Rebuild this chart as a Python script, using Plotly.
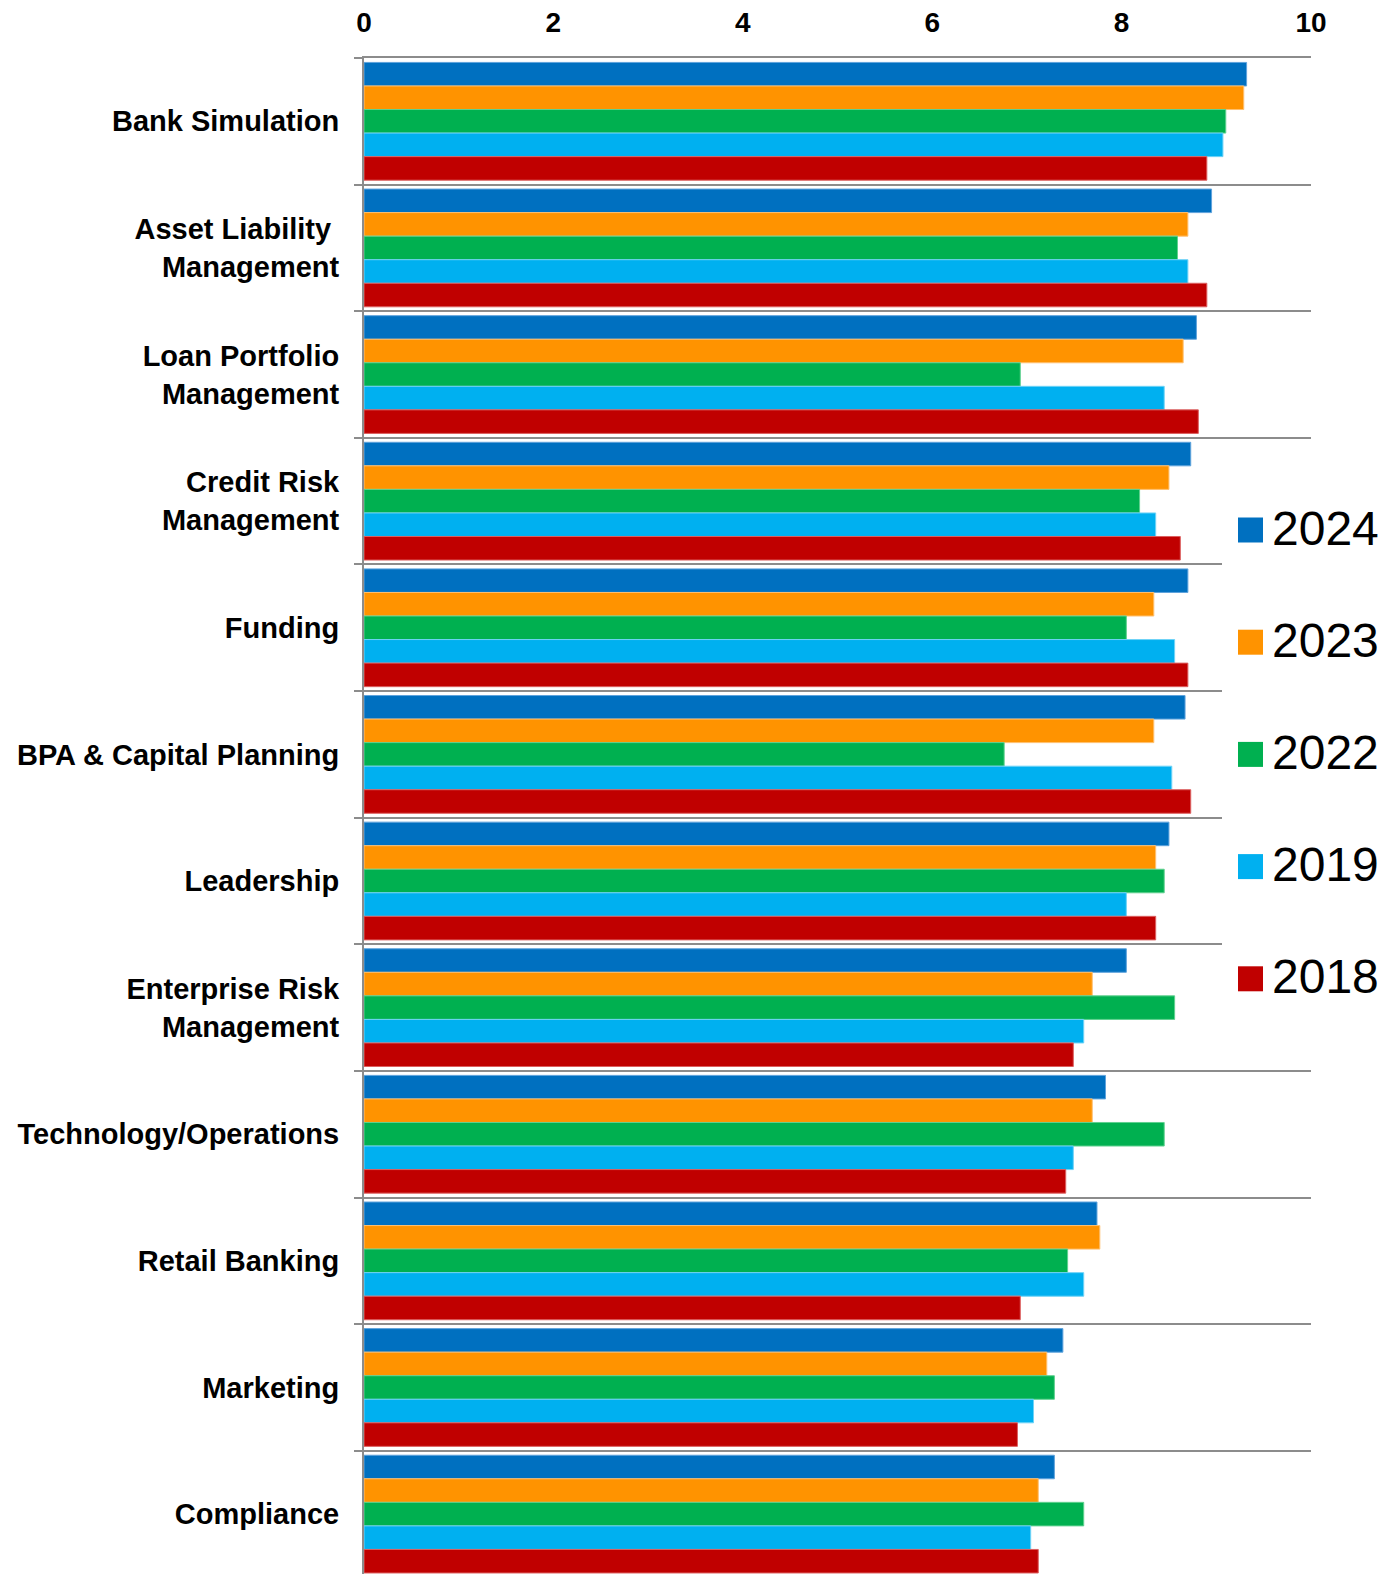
import plotly.graph_objects as go

# Categories (top to bottom) and yearly scores
categories = [
    "Bank Simulation",
    "Asset Liability <br>Management",
    "Loan Portfolio<br>Management",
    "Credit Risk<br>Management",
    "Funding",
    "BPA & Capital Planning",
    "Leadership",
    "Enterprise Risk<br>Management",
    "Technology/Operations",
    "Retail Banking",
    "Marketing",
    "Compliance",
]

years = ["2024", "2023", "2022", "2019", "2018"]

scores_2024 = [9.32, 8.95, 8.79, 8.73, 8.70, 8.67, 8.50, 8.05, 7.83, 7.74, 7.38, 7.29]
scores_2023 = [9.29, 8.70, 8.65, 8.50, 8.34, 8.34, 8.36, 7.69, 7.69, 7.77, 7.21, 7.12]
scores_2022 = [9.10, 8.59, 6.93, 8.19, 8.05, 6.76, 8.45, 8.56, 8.45, 7.43, 7.29, 7.60]
scores_2019 = [9.07, 8.70, 8.45, 8.36, 8.56, 8.53, 8.05, 7.60, 7.49, 7.60, 7.07, 7.04]
scores_2018 = [8.90, 8.90, 8.81, 8.62, 8.70, 8.73, 8.36, 7.49, 7.41, 6.93, 6.90, 7.12]

x_ticks = [0, 2, 4, 6, 8, 10]

series = [scores_2024, scores_2023, scores_2022, scores_2019, scores_2018]
colors = ["#0070C0", "#FF9300", "#00B050", "#00B0F0", "#C00000"]
edge_colors = ["#5fa3dc", "#ffc070", "#5fd08f", "#6fd3f7", "#dc6060"]

FONT = "Liberation Sans, Arial, sans-serif"
W, H = 1396, 1574
ML, MR, MT, MB = 364, 85, 58, 0
PW, PH = W - ML - MR, H - MT - MB

fig = go.Figure()
for name, vals, col, edge in zip(years, series, colors, edge_colors):
    fig.add_trace(go.Bar(
        name=name,
        y=categories,
        x=vals,
        orientation="h",
        marker=dict(color=col, line=dict(color=edge, width=1)),
        showlegend=False,
    ))


def px_x(x):
    return (x - ML) / PW


def px_y(y):
    return 1 - (y - MT) / PH


# Legend drawn on a white panel that masks the separator lines behind it
shapes = [dict(
    type="rect", xref="paper", yref="paper", layer="above",
    x0=px_x(1222), x1=px_x(W), y0=px_y(1030), y1=px_y(480),
    fillcolor="white", line=dict(width=0),
)]
annotations = []
first_center, step, half = 530, 112.2, 12.5
for i, (name, col) in enumerate(zip(years, colors)):
    cy = first_center + i * step
    shapes.append(dict(
        type="rect", xref="paper", yref="paper", layer="above",
        x0=px_x(1238), x1=px_x(1263), y0=px_y(cy + half), y1=px_y(cy - half),
        fillcolor=col, line=dict(width=0),
    ))
    annotations.append(dict(
        xref="paper", yref="paper", x=px_x(1270), y=px_y(cy - 2),
        xanchor="left", yanchor="middle", showarrow=False,
        text=name, font=dict(family=FONT, size=48, color="#000000"),
    ))

fig.update_layout(
    width=W, height=H,
    margin=dict(l=ML, r=MR, t=MT, b=MB, pad=0),
    paper_bgcolor="white", plot_bgcolor="white",
    barmode="group", bargap=0.07, bargroupgap=0,
    font=dict(family=FONT, color="#000000"),
    shapes=shapes, annotations=annotations,
    showlegend=False,
)

fig.update_xaxes(
    side="top", range=[0, 10], tickvals=x_ticks,
    showgrid=False, zeroline=False,
    showline=True, linecolor="#8c8c8c", linewidth=2, ticks="",
    tickfont=dict(family=FONT, size=28, color="#000000", weight="bold"),
    ticklabelstandoff=13,
)

fig.update_yaxes(
    type="category", range=[11.473, -0.5],
    tickson="boundaries", ticks="outside", ticklen=8, tickwidth=2, tickcolor="#8c8c8c",
    showgrid=True, gridcolor="#8c8c8c", gridwidth=2,
    showline=True, linecolor="#8c8c8c", linewidth=2,
    zeroline=False,
    tickfont=dict(family=FONT, size=29, color="#000000", weight="bold"),
    ticklabelstandoff=17,
)

fig.write_html("out.html")
